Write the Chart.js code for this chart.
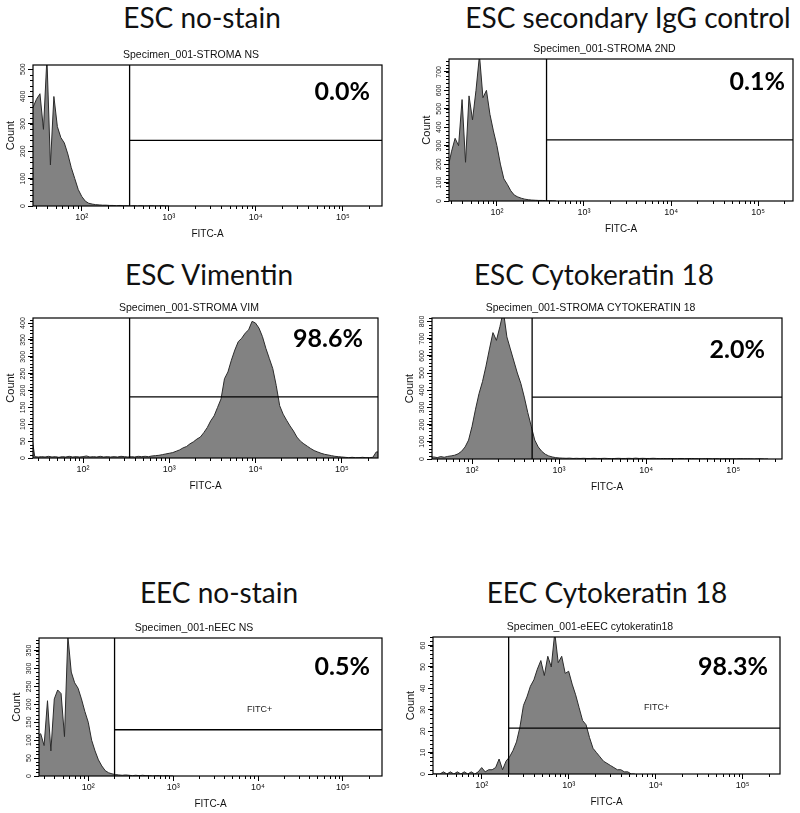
<!DOCTYPE html>
<html>
<head>
<meta charset="utf-8">
<script src="https://cdn.jsdelivr.net/npm/chart.js@4.4.1/dist/chart.umd.min.js"></script>
<style>
  body { margin: 0; background: #fff; }
  #page { position: relative; width: 800px; height: 813px; overflow: hidden; background: #fff; }
  .ttl { position: absolute; font-family: Lato, "Open Sans", sans-serif; font-size: 28px; line-height: 28px;
         color: #111; white-space: nowrap; transform: translateX(-50%); }
  canvas { position: absolute; }
</style>
</head>
<body>
<div id="page"></div>
<script>
// log10(FITC-A) channel centres, shared by all six histograms
const logFitc = [
  1.40,1.44,1.48,1.52,1.56,1.60,1.64,1.68,1.72,1.76,
  1.80,1.84,1.88,1.92,1.96,2.00,2.04,2.08,2.12,2.16,
  2.20,2.24,2.28,2.32,2.36,2.40,2.44,2.48,2.52,2.56,
  2.60,2.64,2.68,2.72,2.76,2.80,2.84,2.88,2.92,2.96,
  3.00,3.04,3.08,3.12,3.16,3.20,3.24,3.28,3.32,3.36,
  3.40,3.44,3.48,3.52,3.56,3.60,3.64,3.68,3.72,3.76,
  3.80,3.84,3.88,3.92,3.96,4.00,4.04,4.08,4.12,4.16,
  4.20,4.24,4.28,4.32,4.36,4.40,4.44,4.48,4.52,4.56,
  4.60,4.64,4.68,4.72,4.76,4.80,4.84,4.88,4.92,4.96,
  5.00,5.04,5.08,5.12,5.16,5.20,5.24,5.28,5.32,5.36,
  5.40,5.44,5.48,5.52,5.56
];

// counts per channel
const escNoStain = [
  350,360,390,410,280,540,150,400,290,250,
  230,190,140,100,60,35,18,10,7,5,
  4,3,3,2,2,1,2,1,1,0,
  1,0,1,0,0,1,0,0,1,0,
  0
];
const escSecondary = [
  150,185,270,340,300,550,210,570,440,600,
  790,560,600,470,380,300,200,120,90,55,
  32,22,15,10,7,5,4,3,3,2,
  1,1,0
];
const escVimentin = [
  75,4,3,4,3,5,3,4,2,4,
  3,5,3,4,3,4,6,3,4,3,
  5,3,4,3,4,3,5,4,3,4,
  3,5,4,5,4,6,7,8,10,12,
  14,16,20,24,30,34,42,48,56,62,
  75,90,110,125,150,175,235,255,290,320,
  345,355,370,380,405,400,385,360,325,295,
  265,215,155,130,112,95,80,62,50,42,
  35,28,22,18,14,11,9,7,5,4,
  3,2,1,2,1,1,2,1,1,2,
  18,18
];
const escCytokeratin = [
  10,8,12,10,12,8,14,10,15,18,
  22,30,45,70,110,190,290,380,450,540,
  640,735,690,770,860,710,640,570,500,440,
  360,270,190,110,70,45,28,18,12,8,
  6,5,4,5,3,4,3,4,3,3,
  4,3,3,4,3,2,3,4,3,3,
  4,3,5,3,4,3,3,4,3,2,
  3,2,3,2,2,3,2,2,3,2,
  2,1,2,2,1,2,1,1,2,1,
  1,1,2,1,1,1,0,1,1,0,
  0
];
const eecNoStain = [
  110,118,85,210,70,215,240,230,110,390,
  290,260,245,215,180,150,100,70,45,28,
  15,9,6,4,3,2,3,2,1,2,
  1,2,1,1,0,1,1,0,1,0,
  0
];
const eecCytokeratin = [
  0,0,0,0,1,0,1,0,1,0,
  1,0,1,0,1,3,1,2,2,3,
  7,2,6,8,11,15,22,32,36,41,
  44,49,53,46,55,50,66,52,55,47,
  48,42,37,31,25,23,17,12,10,8,
  6,5,4,3,2,2,1,1,0,0
];

const panelTitles = ['ESC no-stain', 'ESC secondary IgG control', 'ESC Vimentin',
                     'ESC Cytokeratin 18', 'EEC no-stain', 'EEC Cytokeratin 18'];
const specimens = ['Specimen_001-STROMA NS', 'Specimen_001-STROMA 2ND', 'Specimen_001-STROMA VIM',
                   'Specimen_001-STROMA CYTOKERATIN 18', 'Specimen_001-nEEC NS', 'Specimen_001-eEEC cytokeratin18'];
const percentPositive = ['0.0%', '0.1%', '98.6%', '2.0%', '0.5%', '98.3%'];
const gateX = [2.55, 2.57, 2.54, 2.69, 2.31, 2.31];      // log10 FITC-A
const gateY = [240, 331, 181, 360, 129, 21.4];            // count level of the marker bar
const xRange = [[1.44, 5.45], [1.45, 5.40], [1.42, 5.42], [1.54, 5.56], [1.42, 5.46], [1.44, 5.43]];
const yMax = [515, 770, 415, 820, 385, 64];
const xDecades = [2, 3, 4, 5];
const xTickLabels = ['10²', '10³', '10⁴', '10⁵'];
const escNoStainTicks = [0, 100, 200, 300, 400, 500];
const escSecondaryTicks = [0, 100, 200, 300, 400, 500, 600, 700];
const escVimentinTicks = [0, 50, 100, 150, 200, 250, 300, 350, 400];
const escCytokeratinTicks = [0, 100, 200, 300, 400, 500, 600, 700, 800];
const eecNoStainTicks = [0, 50, 100, 150, 200, 250, 300, 350];
const eecCytokeratinTicks = [0, 10, 20, 30, 40, 50, 60];
const fitcPlusLabel = [null, null, null, null, [4.02, 186], [4.01, 31]];

const counts = [escNoStain, escSecondary, escVimentin, escCytokeratin, eecNoStain, eecCytokeratin];
const yTicks = [escNoStainTicks, escSecondaryTicks, escVimentinTicks, escCytokeratinTicks, eecNoStainTicks, eecCytokeratinTicks];

// page layout: plot box [left, top, right, bottom], title centre/baseline, % label inset
const layout = [
  {box: [33, 65, 382, 206],  tx: 202, ty: 28,  pct: [12, 35], minor: 20},
  {box: [449, 59, 793, 201], tx: 628, ty: 28,  pct: [8, 31],  minor: 20},
  {box: [33, 318, 378, 458], tx: 209, ty: 285, pct: [15, 29], minor: 10},
  {box: [432, 318, 782, 459], tx: 594, ty: 285, pct: [17, 40], minor: 20},
  {box: [39, 638, 382, 776], tx: 219, ty: 603, pct: [12, 37], minor: 10},
  {box: [433, 637, 780, 774], tx: 607, ty: 603, pct: [12, 38], minor: 2}
];

const AXIS_FONT = '"Liberation Sans", Arial, sans-serif';

// box, minor ticks, rotated count labels, % positive and FITC+ text
const flowFrame = {
  id: 'flowFrame',
  afterDatasetsDraw(chart, args, opts) {
    const {ctx, chartArea: a} = chart;
    const x = chart.scales.x, y = chart.scales.y;
    ctx.save();
    ctx.strokeStyle = '#000';
    ctx.lineWidth = 1.2;
    ctx.strokeRect(a.left, a.top, a.right - a.left, a.bottom - a.top);

    ctx.lineWidth = 1;
    ctx.beginPath();
    for (let d = 1; d <= 5; d++) {
      for (let k = 2; k <= 9; k++) {
        const v = d + Math.log10(k);
        if (v < x.min || v > x.max) continue;
        const px = Math.round(x.getPixelForValue(v)) + 0.5;
        ctx.moveTo(px, a.bottom);
        ctx.lineTo(px, a.bottom + 3);
      }
    }
    for (let v = 0; v <= y.max; v += opts.minor) {
      const py = Math.round(y.getPixelForValue(v)) + 0.5;
      ctx.moveTo(a.left - 3, py);
      ctx.lineTo(a.left, py);
    }
    ctx.stroke();

    ctx.fillStyle = '#222';
    ctx.font = '7px ' + AXIS_FONT;
    ctx.textAlign = 'center';
    ctx.textBaseline = 'middle';
    opts.ticks.forEach(v => {
      ctx.save();
      ctx.translate(a.left - 10, y.getPixelForValue(v));
      ctx.rotate(-Math.PI / 2);
      ctx.fillText(String(v), 0, 0);
      ctx.restore();
    });

    ctx.fillStyle = '#000';
    ctx.font = 'bold 25px Lato, "Open Sans", sans-serif';
    ctx.textAlign = 'right';
    ctx.textBaseline = 'alphabetic';
    ctx.fillText(opts.pct, a.right - opts.pctAt[0], a.top + opts.pctAt[1]);

    if (opts.fitcPlus) {
      ctx.font = '9px ' + AXIS_FONT;
      ctx.fillStyle = '#222';
      ctx.textAlign = 'center';
      ctx.textBaseline = 'middle';
      ctx.fillText('FITC+', x.getPixelForValue(opts.fitcPlus[0]), y.getPixelForValue(opts.fitcPlus[1]));
    }
    ctx.restore();
  }
};

const page = document.getElementById('page');

function drawPanel(i) {
  const p = layout[i];
  const [L, T, R, B] = p.box;

  const ttl = document.createElement('div');
  ttl.className = 'ttl';
  ttl.textContent = panelTitles[i];
  ttl.style.left = p.tx + 'px';
  ttl.style.top = (p.ty - 24.8) + 'px';
  page.appendChild(ttl);

  const cv = document.createElement('canvas');
  cv.width = R - L + 38;
  cv.height = B - T + 54;
  cv.style.left = (L - 33) + 'px';
  cv.style.top = (T - 20) + 'px';
  page.appendChild(cv);

  const hist = counts[i].map((c, j) => ({x: logFitc[j], y: c}));

  new Chart(cv, {
    type: 'line',
    data: {
      datasets: [
        {
          data: hist,
          fill: 'origin',
          backgroundColor: '#828282',
          borderColor: '#2b2b2b',
          borderWidth: 1,
          pointRadius: 0,
          tension: 0,
          order: 2
        },
        {
          data: [{x: gateX[i], y: 0}, {x: gateX[i], y: yMax[i]}],
          borderColor: '#000',
          borderWidth: 1.3,
          pointRadius: 0,
          fill: false,
          order: 1
        },
        {
          data: [{x: gateX[i], y: gateY[i]}, {x: xRange[i][1], y: gateY[i]}],
          borderColor: '#000',
          borderWidth: 1.3,
          pointRadius: 0,
          fill: false,
          order: 1
        }
      ]
    },
    options: {
      responsive: false,
      animation: false,
      events: [],
      layout: {padding: {top: 3.4, right: 5, left: 0, bottom: 0}},
      plugins: {
        legend: {display: false},
        tooltip: {enabled: false},
        title: {
          display: true,
          text: specimens[i],
          color: '#111',
          font: {family: AXIS_FONT, size: 10.5, weight: 'normal'},
          padding: {top: 0, bottom: 4}
        },
        flowFrame: {
          minor: p.minor,
          ticks: yTicks[i],
          pct: percentPositive[i],
          pctAt: p.pct,
          fitcPlus: fitcPlusLabel[i]
        }
      },
      scales: {
        x: {
          type: 'linear',
          min: xRange[i][0],
          max: xRange[i][1],
          afterBuildTicks: s => { s.ticks = xDecades.map(v => ({value: v})); },
          afterFit: s => { s.height = 34; },
          border: {display: false},
          grid: {drawOnChartArea: false, color: '#000', tickLength: 5},
          ticks: {
            autoSkip: false,
            maxRotation: 0,
            padding: 1,
            color: '#111',
            font: {family: AXIS_FONT, size: 9},
            callback: v => xTickLabels[xDecades.indexOf(v)]
          },
          title: {
            display: true,
            text: 'FITC-A',
            color: '#111',
            font: {family: AXIS_FONT, size: 10},
            padding: {top: 0, bottom: 0}
          }
        },
        y: {
          type: 'linear',
          min: 0,
          max: yMax[i],
          afterBuildTicks: s => { s.ticks = yTicks[i].map(v => ({value: v})); },
          afterFit: s => { s.width = 33; },
          border: {display: false},
          grid: {drawOnChartArea: false, color: '#000', tickLength: 5},
          ticks: {display: false},
          title: {
            display: true,
            text: 'Count',
            color: '#111',
            font: {family: AXIS_FONT, size: 11},
            padding: {top: 4, bottom: 0}
          }
        }
      }
    },
    plugins: [flowFrame]
  });
}

for (let i = 0; i < 6; i++) drawPanel(i);
</script>
</body>
</html>
